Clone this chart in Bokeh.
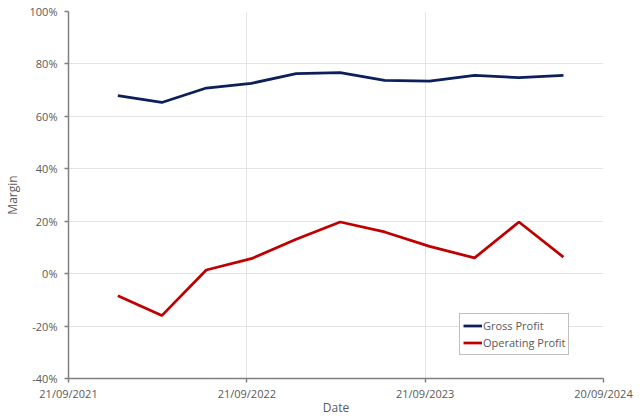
from datetime import datetime
from bokeh.plotting import figure
from bokeh.models import Range1d, FixedTicker, NumeralTickFormatter, DatetimeTickFormatter, Legend, LegendItem, ColumnDataSource
from bokeh.embed import file_html
from bokeh.resources import INLINE

dates = ["2021-12-31", "2022-03-31", "2022-06-30", "2022-09-30", "2022-12-31", "2023-03-31",
         "2023-06-30", "2023-09-30", "2023-12-31", "2024-03-31", "2024-06-30"]
gross_profit = [0.679, 0.653, 0.708, 0.726, 0.763, 0.767, 0.737, 0.734, 0.756, 0.748, 0.756]
operating_profit = [-0.084, -0.160, 0.014, 0.057, 0.131, 0.197, 0.159, 0.104, 0.060, 0.197, 0.063]
x_tick_dates = ["2021-09-21", "2022-09-21", "2023-09-21", "2024-09-20"]
y_ticks = [-0.4, -0.2, 0.0, 0.2, 0.4, 0.6, 0.8, 1.0]

xs = [datetime.strptime(d, "%Y-%m-%d") for d in dates]
xt = [datetime.strptime(d, "%Y-%m-%d") for d in x_tick_dates]
xt_ms = [(d - datetime(1970, 1, 1)).total_seconds() * 1000 for d in xt]

FONT = "Open Sans"
TXT = "#595959"

p = figure(width=640, height=419, output_backend="svg", toolbar_location=None,
           x_axis_type="datetime",
           x_range=Range1d(xt[0], xt[-1]), y_range=Range1d(y_ticks[0], y_ticks[-1]),
           min_border_left=67, min_border_right=37, min_border_top=11, min_border_bottom=41)
p.outline_line_color = None
p.background_fill_color = "white"
p.border_fill_color = "white"

src = ColumnDataSource(dict(x=xs, g=gross_profit, o=operating_profit))
r1 = p.line("x", "g", source=src, line_color="#0C1F5B", line_width=2.75)
r2 = p.line("x", "o", source=src, line_color="#C00000", line_width=2.75)

p.xaxis.ticker = FixedTicker(ticks=xt_ms)
p.xaxis.formatter = DatetimeTickFormatter(days="%d/%m/%Y", months="%d/%m/%Y", years="%d/%m/%Y")
p.yaxis.ticker = FixedTicker(ticks=y_ticks)
p.yaxis.formatter = NumeralTickFormatter(format="0%")
p.xgrid.ticker = FixedTicker(ticks=xt_ms)
p.ygrid.ticker = FixedTicker(ticks=y_ticks)
p.grid.grid_line_color = "#E3E3E3"
p.grid.grid_line_width = 1

for ax in (p.xaxis, p.yaxis):
    ax.axis_line_color = "#808080"
    ax.axis_line_width = 1.5
    ax.major_tick_line_color = "#808080"
    ax.major_tick_line_width = 1.5
    ax.major_tick_out = 4
    ax.major_tick_in = 0
    ax.minor_tick_line_color = None
    ax.major_label_text_font = FONT
    ax.major_label_text_font_size = "11px"
    ax.major_label_text_color = TXT
    ax.axis_label_text_font = FONT
    ax.axis_label_text_font_size = "12px"
    ax.axis_label_text_color = TXT
    ax.axis_label_text_font_style = "normal"

p.xaxis.axis_label = "Date"
p.yaxis.axis_label = "Margin"
p.xaxis.major_label_standoff = 3
p.xaxis.axis_label_standoff = -5
p.yaxis.major_label_standoff = 7
p.yaxis.axis_label_standoff = 6

legend = Legend(items=[LegendItem(label="Gross Profit", renderers=[r1]),
                       LegendItem(label="Operating Profit", renderers=[r2])],
                location=(391, 23))
legend.border_line_color = "#7F7F7F"
legend.border_line_width = 1.5
legend.padding = 3
legend.spacing = 0
legend.margin = 0
legend.glyph_width = 19
legend.glyph_height = 17
legend.label_height = 17
legend.label_standoff = 1
legend.label_text_font = FONT
legend.label_text_font_size = "11px"
legend.label_text_color = TXT
legend.background_fill_alpha = 1
p.add_layout(legend, "center")

open("out.html", "w").write(file_html(p, INLINE))
